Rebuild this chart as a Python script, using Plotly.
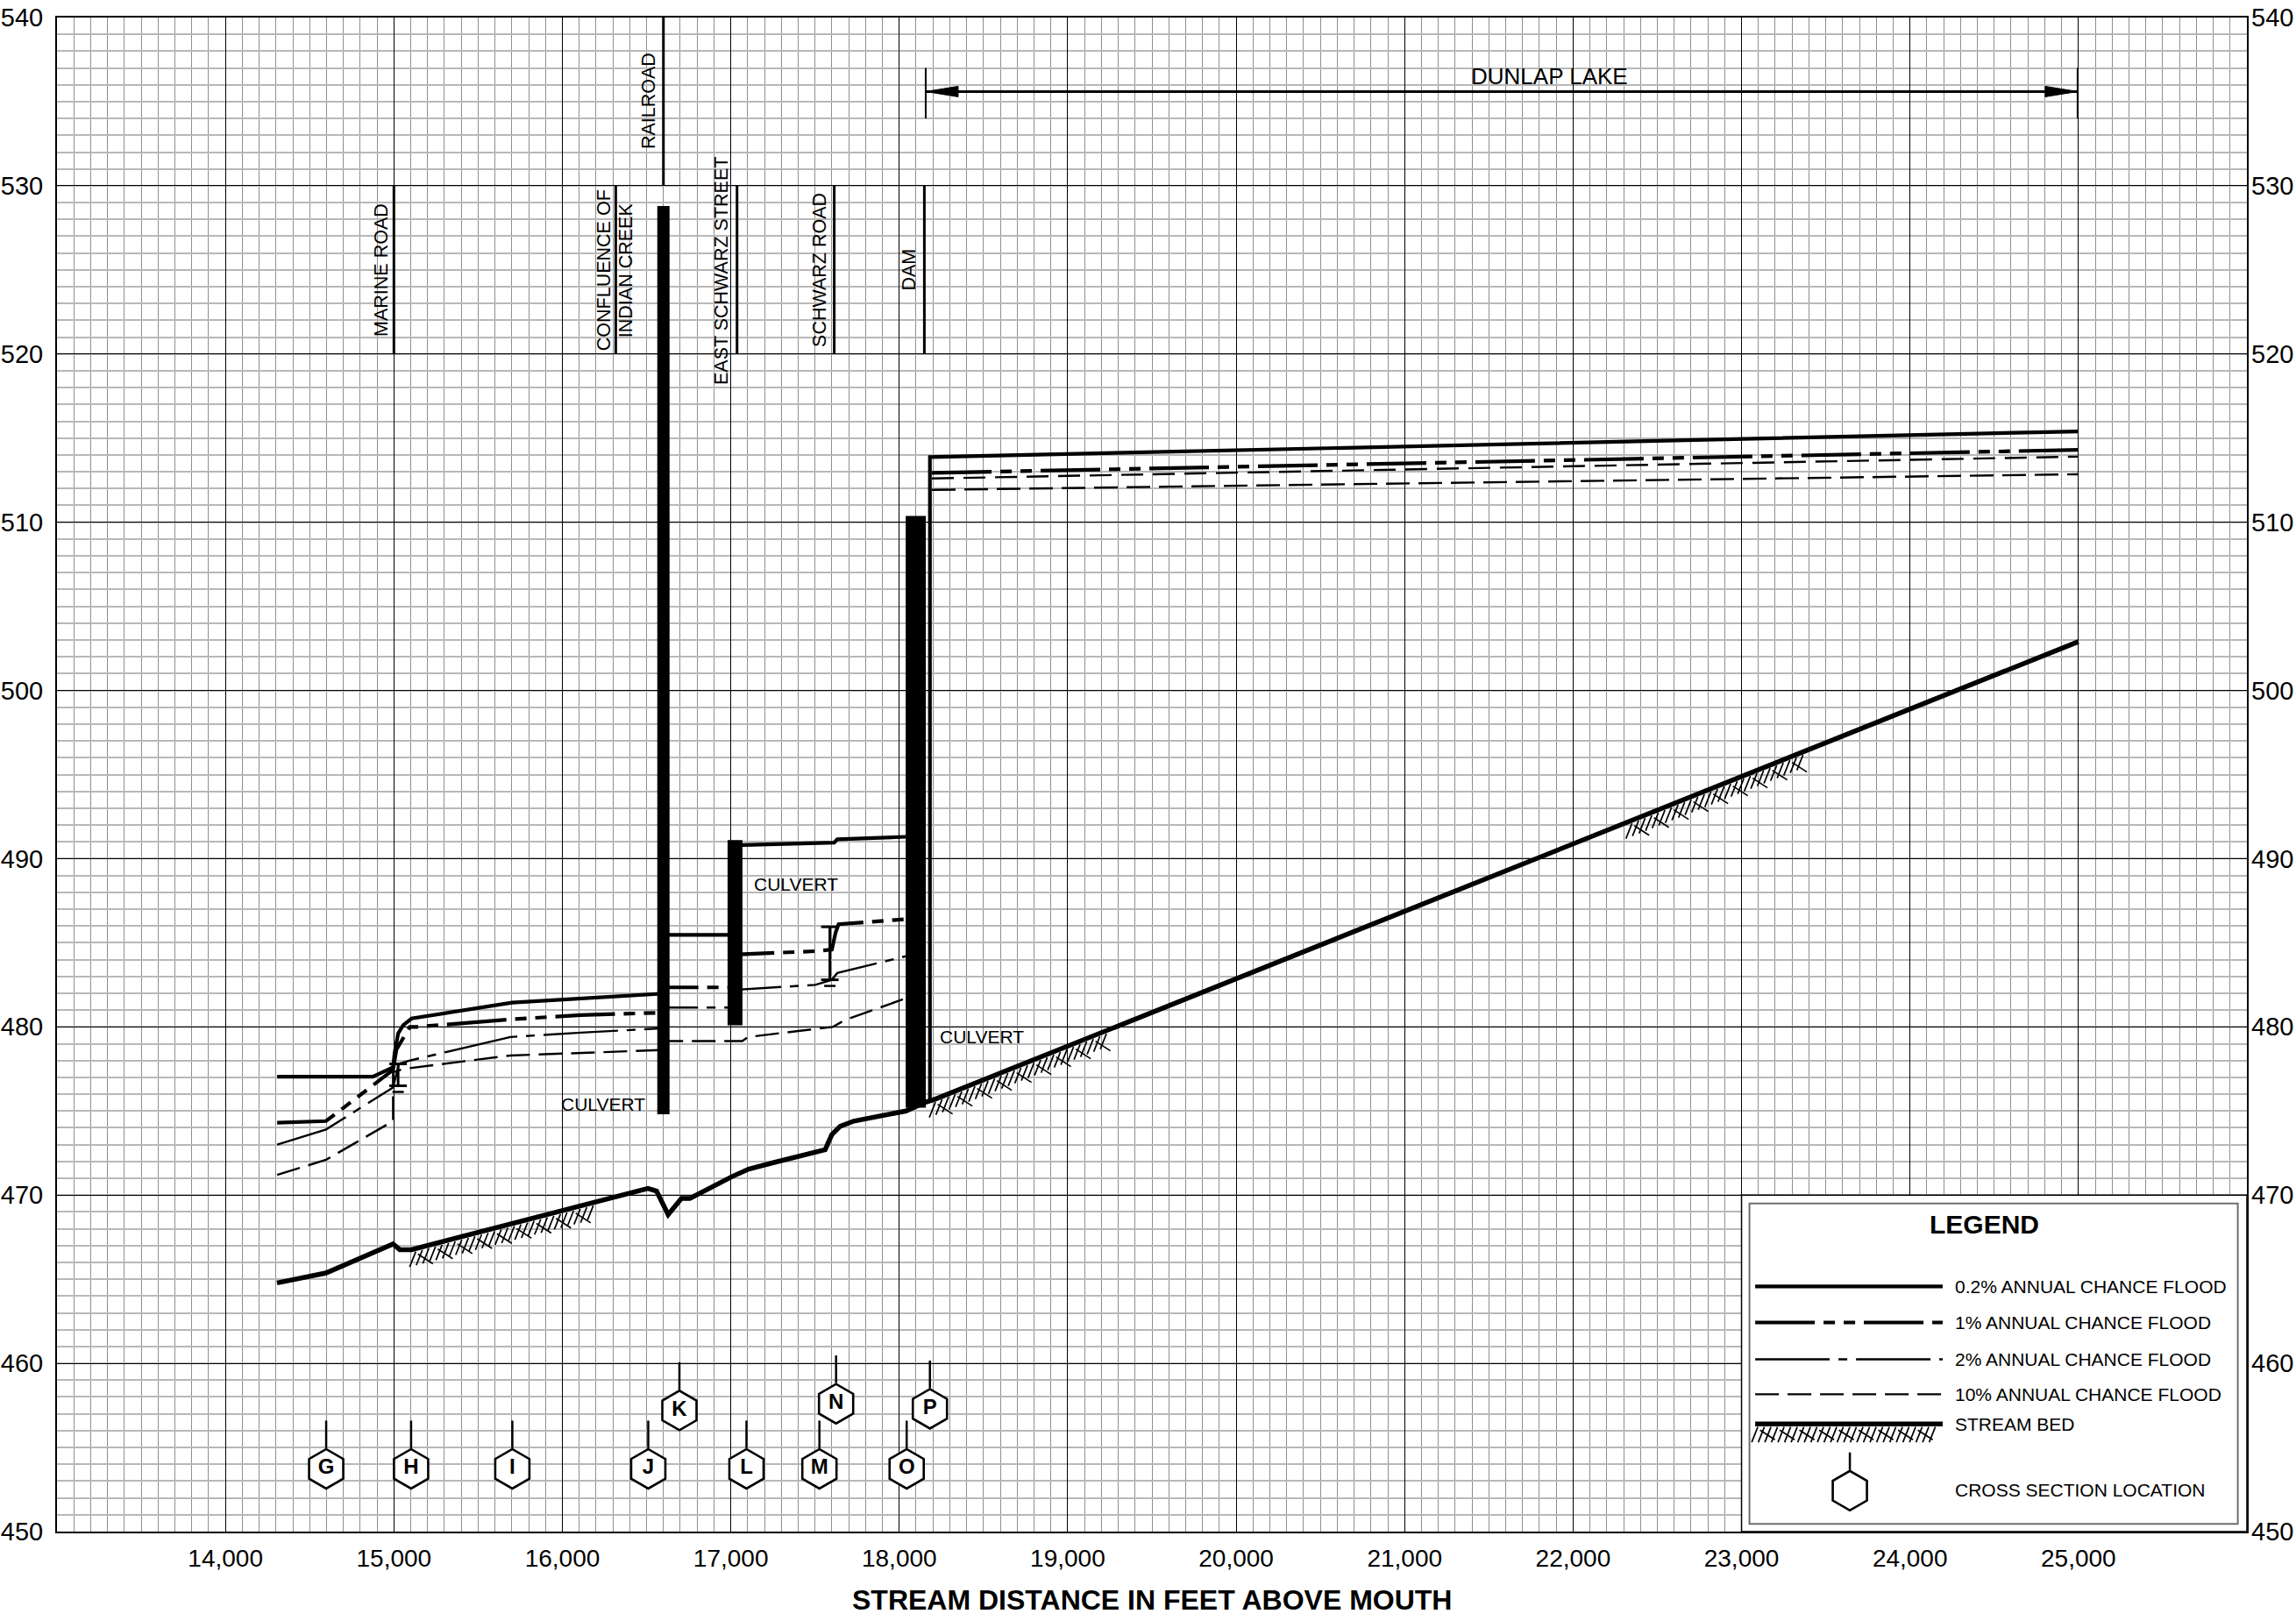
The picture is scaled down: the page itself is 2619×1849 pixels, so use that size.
import numpy as np
import plotly.graph_objects as go

# ---------------- figure geometry ----------------
W, H = 2619, 1849
ML, MR, MT, MB = 65, 56, 20, 102
PLOT_W = W - ML - MR
PLOT_H = H - MT - MB

# ---------------- axes / ticks ----------------
X_RANGE = [13000, 26000]
Y_RANGE = [450, 540]
x_tick_vals = list(range(14000, 26000, 1000))
x_tick_text = [f"{v:,}" for v in x_tick_vals]
y_tick_vals = list(range(450, 541, 10))

PXX = (X_RANGE[1] - X_RANGE[0]) / PLOT_W   # feet per pixel (x)
PXY = (Y_RANGE[1] - Y_RANGE[0]) / PLOT_H   # feet per pixel (y)

# ---------------- stream bed ----------------
bed_x = [14306, 14597, 14995, 15035, 15105, 16508, 16559, 16628, 16707, 16757, 17007, 17106,
         17241, 17520, 17560, 17600, 17650, 17730, 18040, 18150, 18212, 25000]
bed_y = [464.78, 465.37, 467.1, 466.76, 466.76, 470.4, 470.24, 468.84, 469.8, 469.8, 471.1, 471.55,
         471.9, 472.6, 472.7, 473.6, 474.1, 474.4, 475.0, 475.5, 475.7, 502.9]
hatch_from = [15130, 18215, 22350]
hatch_to = [16200, 19240, 23370]

# ---------------- flood profiles ----------------
f02_x = [14307, 14875, 14995, 15005, 15025, 15055, 15105, 15702, 16600, 16600, 17025, 17025,
         17614, 17632, 18039, None, 18182, 18182, 25000]
f02_y = [477.04, 477.04, 477.6, 478.5, 479.6, 480.1, 480.5, 481.44, 481.98, 485.47, 485.47, 490.8,
         490.95, 491.15, 491.3, None, 475.6, 513.87, 515.4]

f01_x = [14307, 14597, 14995, 15015, 15095, 15135, 15692, 16110, 16600, 16600, 17025, 17025,
         17502, 17600, 17622, 17640, 18039, None, 18194, 25000]
f01_y = [474.3, 474.4, 477.44, 478.65, 480.0, 480.0, 480.45, 480.7, 480.85, 482.35, 482.35, 484.3,
         484.5, 484.6, 485.6, 486.1, 486.4, None, 512.93, 514.3]

f2_x = [14307, 14597, 14995, 15030, 15095, 15573, 15692, 16110, 16600, 16600, 17025, 17025,
        17502, 17600, 17632, 18039]
f2_y = [473.0, 473.9, 476.4, 477.8, 478.0, 479.14, 479.4, 479.66, 479.92, 481.15, 481.15, 482.2,
        482.5, 482.8, 483.2, 484.2]
f2_lake_x = [18194, 25000]
f2_lake_y = [512.6, 513.9]

f10_x = [14307, 14597, 14995, 14995, 15055, 15692, 16600, 16600, 17068, 17102, 17606, 17676,
         18039, None, 18194, 25000]
f10_y = [471.2, 472.1, 474.4, 477.3, 477.5, 478.3, 478.63, 479.16, 479.16, 479.4, 480.0, 480.4,
         481.7, None, 511.92, 512.85]

# ---------------- structures ----------------
bar_x = [16600, 17025, 18098]            # railroad, East Schwarz St, dam
bar_top = [528.8, 491.1, 510.37]
bar_bottom = [474.8, 480.1, 475.2]
bar_width_px = [14, 17, 23]

bracket_x = [15025, 17588]               # Marine Road, Schwarz Road culverts
bracket_top = [477.8, 485.95]
bracket_bottom = [476.5, 482.8]

# ---------------- labels ----------------
site_labels = ["MARINE ROAD", "CONFLUENCE OF", "INDIAN CREEK", "RAILROAD",
               "EAST SCHWARZ STREET", "SCHWARZ ROAD", "DAM"]
site_label_x = [14926, 16244, 16374, 16513, 16946, 17528, 18057]
site_label_y = [525, 525, 525, 535.05, 524.95, 525, 525]
site_line_x = [15000, 16317, 16600, 17037, 17614, 18149]
site_line_y0 = [520, 520, 530, 520, 520, 520]
site_line_y1 = [530, 530, 540, 530, 530, 530]

culvert_x = [16500, 17129, 18230]
culvert_y = [475.4, 488.5, 479.4]
culvert_anchor = ["right", "left", "left"]

lake_start, lake_end, lake_y = 18157, 24995, 535.6
lake_label = "DUNLAP LAKE"

xs_letters = ["G", "H", "I", "J", "K", "L", "M", "N", "O", "P"]
xs_x = [14598, 15102, 15703, 16510, 16695, 17093, 17526, 17625, 18044, 18182]
xs_y = [453.73, 453.73, 453.73, 453.73, 457.2, 453.73, 453.73, 457.6, 453.73, 457.3]

legend_names = ["0.2% ANNUAL CHANCE FLOOD", "1% ANNUAL CHANCE FLOOD",
                "2% ANNUAL CHANCE FLOOD", "10% ANNUAL CHANCE FLOOD", "STREAM BED"]

# ---------------- styles ----------------
SANS = "Liberation Sans, Arial, Helvetica, sans-serif"
BLACK = "#000000"
DASH01 = "68px,10px,13px,10px,13px,10px"
DASH2 = "85px,10px,10px,10px"
DASH2_LAKE = "25px,11px"
DASH10 = "27px,10px"
styles = [
    dict(color=BLACK, width=4.2, dash="solid"),
    dict(color=BLACK, width=4.2, dash=DASH01),
    dict(color=BLACK, width=2.4, dash=DASH2),
    dict(color=BLACK, width=2.4, dash=DASH10),
]

fig = go.Figure()


def add_line(x, y, line, yaxis="y"):
    fig.add_trace(go.Scatter(x=x, y=y, mode="lines", line=line, yaxis=yaxis,
                             hoverinfo="skip", showlegend=False, connectgaps=False))


def hatch(x_start, x_end, yfun):
    hx, hy = [], []
    step = 7.5 * PXX
    n = int((x_end - x_start) / step)
    for i in range(n + 1):
        x = x_start + i * step
        y = yfun(x)
        hx += [x, x - 7 * PXX, None]
        hy += [y - 3.5 * PXY, y - 21 * PXY, None]
        if i % 3 == 1:
            x0 = x - 5 * PXX
            y0 = yfun(x0) - 7 * PXY
            hx += [x0, x0 + 17 * PXX, None]
            hy += [y0, y0 - 11 * PXY, None]
    return hx, hy


bed_fun = lambda v: float(np.interp(v, bed_x, bed_y))

# hatching under stream bed
hx_all, hy_all = [], []
for a, b in zip(hatch_from, hatch_to):
    hx, hy = hatch(a, b, bed_fun)
    hx_all += hx
    hy_all += hy
add_line(hx_all, hy_all, dict(color=BLACK, width=1.7))

# flood profiles
add_line(f10_x, f10_y, styles[3])
add_line(f2_x, f2_y, styles[2])
add_line(f2_lake_x, f2_lake_y, dict(color=BLACK, width=2.4, dash=DASH2_LAKE))
add_line(f01_x, f01_y, styles[1])
add_line(f02_x, f02_y, styles[0])

# stream bed
add_line(bed_x, bed_y, dict(color=BLACK, width=5.5))

# structure bars
for xc, yt, yb, wpx in zip(bar_x, bar_top, bar_bottom, bar_width_px):
    add_line([xc, xc], [yb, yt], dict(color=BLACK, width=wpx))

# culvert brackets
for xc, yt, yb in zip(bracket_x, bracket_top, bracket_bottom):
    cw = 10 * PXX
    add_line([xc, xc, None, xc - cw, xc + cw, None, xc - cw, xc + cw],
             [yb, yt, None, yt, yt, None, yb, yb], dict(color=BLACK, width=3))
    add_line([xc - 0.65 * cw, xc + 0.65 * cw], [yb - 7 * PXY, yb - 7 * PXY],
             dict(color=BLACK, width=2.5))

# site label lines
lx, ly = [], []
for xv, a, b in zip(site_line_x, site_line_y0, site_line_y1):
    lx += [xv, xv, None]
    ly += [a, b, None]
add_line(lx, ly, dict(color=BLACK, width=3))

# lake extent arrow
add_line([lake_start, lake_end], [lake_y, lake_y], dict(color=BLACK, width=3))
add_line([lake_start, lake_start, None, lake_end, lake_end],
         [lake_y - 1.6, lake_y + 1.4, None, lake_y - 1.6, lake_y + 1.4], dict(color=BLACK, width=2))

# cross-section stems + hexagons
HEX_SIZE = 45
half_hex = HEX_SIZE * 1.05 / 2 * PXY
sx, sy = [], []
for xv, yv in zip(xs_x, xs_y):
    sx += [xv, xv, None]
    sy += [yv + half_hex, yv + 55 * PXY, None]
add_line(sx, sy, dict(color=BLACK, width=2.5))
fig.add_trace(go.Scatter(
    x=xs_x, y=xs_y, mode="markers+text", text=xs_letters, textposition="middle center",
    textfont=dict(family=SANS, size=24, color=BLACK, weight="bold"),
    marker=dict(symbol="hexagon", size=HEX_SIZE, color="white", line=dict(color=BLACK, width=2.6)),
    hoverinfo="skip", showlegend=False))

# ---------------- legend (drawn inside the plot) ----------------
LG_X0, LG_X1, LG_Y0, LG_Y1 = 23000, 26000, 450, 470
lg_line_x0 = LG_X0 + 81
lg_line_x1 = LG_X0 + 1194
lg_text_x = LG_X0 + 1257
lg_rows_y = [464.57, 462.43, 460.24, 458.16, 456.4]
lg_hex = (LG_X0 + 643, 452.43)

for st, yy in zip(styles, lg_rows_y[:4]):
    add_line([lg_line_x0, lg_line_x1], [yy, yy], st, yaxis="y2")
add_line([lg_line_x0, lg_line_x1], [lg_rows_y[4], lg_rows_y[4]], dict(color=BLACK, width=5.5), yaxis="y2")
lhx, lhy = hatch(lg_line_x0 + 3 * PXX, lg_line_x1 - 4 * PXX, lambda v: lg_rows_y[4])
add_line(lhx, lhy, dict(color=BLACK, width=1.7), yaxis="y2")
add_line([lg_hex[0], lg_hex[0]], [lg_hex[1] + half_hex, lg_hex[1] + half_hex + 20 * PXY],
         dict(color=BLACK, width=2.5), yaxis="y2")
fig.add_trace(go.Scatter(x=[lg_hex[0]], y=[lg_hex[1]], mode="markers", yaxis="y2",
                         marker=dict(symbol="hexagon", size=HEX_SIZE, color="white",
                                     line=dict(color=BLACK, width=2.6)),
                         hoverinfo="skip", showlegend=False))

shapes = [
    dict(type="rect", xref="x", yref="y", x0=LG_X0, x1=LG_X1, y0=LG_Y0, y1=LG_Y1,
         fillcolor="white", line=dict(color=BLACK, width=1.5), layer="between"),
    dict(type="rect", xref="x", yref="y", x0=LG_X0 + 47, x1=LG_X1 - 54, y0=LG_Y0 + 0.45, y1=LG_Y1 - 0.5,
         fillcolor="rgba(0,0,0,0)", line=dict(color="#6e6e6e", width=2), layer="between"),
]
# lake arrowheads
ah_len, ah_half = 37 * PXX, 6 * PXY
shapes.append(dict(type="path", xref="x", yref="y", fillcolor=BLACK, line=dict(color=BLACK, width=1),
                   path=f"M{lake_start},{lake_y} L{lake_start + ah_len},{lake_y + ah_half} "
                        f"L{lake_start + ah_len},{lake_y - ah_half} Z"))
shapes.append(dict(type="path", xref="x", yref="y", fillcolor=BLACK, line=dict(color=BLACK, width=1),
                   path=f"M{lake_end},{lake_y} L{lake_end - ah_len},{lake_y + ah_half} "
                        f"L{lake_end - ah_len},{lake_y - ah_half} Z"))

annotations = []
for t, xv, yv in zip(site_labels, site_label_x, site_label_y):
    annotations.append(dict(x=xv, y=yv, xref="x", yref="y", text=t, showarrow=False, textangle=-90,
                            font=dict(family=SANS, size=21.5, color=BLACK),
                            xanchor="center", yanchor="middle"))
for xv, yv, anc in zip(culvert_x, culvert_y, culvert_anchor):
    annotations.append(dict(x=xv, y=yv, xref="x", yref="y", text="CULVERT", showarrow=False,
                            font=dict(family=SANS, size=21, color=BLACK),
                            xanchor=anc, yanchor="middle"))
annotations.append(dict(x=(lake_start + lake_end) / 2 + 285, y=lake_y, xref="x", yref="y",
                        text=lake_label, showarrow=False, yanchor="bottom",
                        font=dict(family=SANS, size=26, color=BLACK)))
annotations.append(dict(x=24440, y=468.24, xref="x", yref="y", text="LEGEND",
                        showarrow=False, font=dict(family=SANS, size=30, color=BLACK, weight="bold")))
for t, yv in zip(legend_names + ["CROSS SECTION LOCATION"], lg_rows_y + [452.5]):
    annotations.append(dict(x=lg_text_x, y=yv, xref="x", yref="y", text=t, showarrow=False,
                            xanchor="left", yanchor="middle",
                            font=dict(family=SANS, size=21, color=BLACK)))
annotations.append(dict(x=0.5, y=-(1825 - (H - MB)) / PLOT_H, xref="paper", yref="paper",
                        text="STREAM DISTANCE IN FEET ABOVE MOUTH", showarrow=False,
                        yanchor="middle", font=dict(family=SANS, size=32, color=BLACK, weight="bold")))

axis_common = dict(showline=True, linecolor=BLACK, linewidth=2, mirror=True, zeroline=False,
                   ticks="", showgrid=True, gridcolor=BLACK, gridwidth=1, automargin=False)

fig.update_layout(
    width=W, height=H,
    margin=dict(l=ML, r=MR, t=MT, b=MB, pad=0, autoexpand=False),
    paper_bgcolor="white", plot_bgcolor="white",
    showlegend=False,
    xaxis=dict(range=X_RANGE, tickmode="array", tickvals=x_tick_vals, ticktext=x_tick_text,
               tickfont=dict(family=SANS, size=28, color=BLACK), ticklabelstandoff=4,
               minor=dict(tickmode="linear", tick0=X_RANGE[0], dtick=100, showgrid=True,
                          gridcolor="#8e8e8e", gridwidth=1.3, ticks=""),
               **axis_common),
    yaxis=dict(range=Y_RANGE, tickmode="array", tickvals=y_tick_vals,
               tickfont=dict(family=SANS, size=29, color=BLACK), ticklabelstandoff=8,
               minor=dict(tickmode="linear", tick0=Y_RANGE[0], dtick=1, showgrid=True,
                          gridcolor="#b8b8b8", gridwidth=1.7, ticks=""),
               **axis_common),
    yaxis2=dict(range=Y_RANGE, overlaying="y", side="right", matches="y", tickmode="array",
                tickvals=y_tick_vals, showgrid=False, zeroline=False, showline=False, ticks="",
                automargin=False,
                tickfont=dict(family=SANS, size=29, color=BLACK), ticklabelstandoff=4),
    shapes=shapes,
    annotations=annotations,
)

fig.write_html("out.html", include_plotlyjs=True, full_html=True,
               config={"displayModeBar": False},
               post_script="document.body.style.margin='0';document.body.style.overflow='hidden';")
